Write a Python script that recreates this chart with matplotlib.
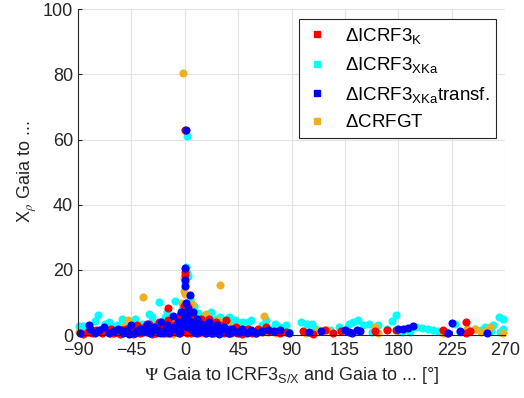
import matplotlib
matplotlib.use("Agg")
import matplotlib.pyplot as plt
from matplotlib.lines import Line2D

plt.rcParams['font.family'] = ['Liberation Sans', 'DejaVu Sans']
plt.rcParams['mathtext.default'] = 'regular'
plt.rcParams['mathtext.fontset'] = 'stix'

# angle [deg] and value for each series
red_x = [-86, -82, -78, -75, -70, -66, -62, -58, -55, -52, -48, -45, -42, -40, -38, -35, -32, -30,
         -28, -25, -22, -20, -18, -16, -14, -12, -14, -8, -6, -5, -4, -3, -2, -1, 0, 0, 0, 0.5, 1,
         1.5, 2, 3, 4, 5, 6, 7, 8, 10, 12, 14, 16, 18, 20, 22, 24, 26, 28, 30, 33, 35, 38, 40, 43,
         46, 50, 55, 60, 62, 68, 72, 80, 85, 100, 108, 118, 125, 132, 160, 170, 178, 218, 221,
         237, 237, 240,
         -60, -50, -44, -36, -33, -27, -24, -19, -15, -11, -9, -7, -3, -1, 1, 2, 4, 6, 9, 11, 13,
         15, 17, 19, 21, 23, 25, 27, 29, 31, 34, 37, 41, 44, 48, 53, 57, 65]
red_y = [0.3, 1, 0.8, 1.5, 0.5, 1.2, 1.8, 1, 0.3, 1.5, 2, 0.8, 1.5, 3, 0.5, 2.2, 1, 3.5,
         0.4, 2.5, 4, 1.2, 3, 0.6, 4.5, 2, 8.2, 1, 3.5, 6, 0.8, 5, 2.5, 9, 19.5, 18.5, 63, 7, 4,
         1, 5.5, 8.5, 2, 0.5, 3, 6, 1.5, 4, 2.5, 5, 1, 3.5, 5, 0.5, 2, 4, 1.5, 3, 0.8, 4.5, 2, 1, 2.5,
         0.5, 1.5, 1, 0.5, 1.8, 2.5, 1.3, 0.8, 1, 1.3, 0.3, 1.5, 0.8, 1.2, 1.2, 1.5, 1.5, 1.5, 0.5,
         4, 0.5, 1.2,
         0.8, 1.8, 0.4, 1.3, 2.8, 1.8, 0.6, 2.2, 1.5, 0.9, 3, 1.8, 1.2, 4.5, 2.2, 0.8, 6.5, 1.2, 2.3,
         0.7, 3, 2, 0.6, 2.5, 1.3, 3.3, 0.7, 2.2, 0.9, 2.4, 1.6, 0.6, 1.7, 0.7, 0.3, 1.9, 0.6, 1]

cyan_x = [-89, -86, -82, -80, -76, -73, -70, -67, -64, -60, -57, -53, -50, -47, -44, -42, -39, -36,
          -33, -30, -28, -26, -22, -20, -18, -15, -12, -10, -8, -6, -4, -2, -1, 0, 1, 2, 2, 3, 4, 5,
          6, 8, 10, 12, 14, 16, 18, 20, 22, 24, 26, 28, 30, 32, 35, 38, 40, 42, 45, 48, 50, 53, 56,
          60, 65, 68, 72, 76, 80, 85, 88, 98, 103, 107, 110, 122, 130, 138, 142, 146, 150, 155,
          158, 163, 170, 175, 178, 183, 186, 190, 195, 200, 205, 209, 213, 228, 232, 245, 250,
          253, 260, 265, 268, 268, 266, 258,
          -40, -31, -25, -17, -13, -5, 7, 11, 17, 23, 33, 37]
cyan_y = [2.8, 2.7, 1, 1.5, 4.2, 6.1, 2, 3.5, 4, 2.5, 3, 5, 3.8, 1, 3, 5, 1.2, 3.5,
          2, 6.5, 5.5, 1, 10.1, 4, 2, 7, 3, 5, 10.5, 2, 6, 8, 4, 16, 21, 61, 19, 18, 11, 6,
          3, 9, 4.5, 1.5, 6, 2.5, 5, 3.5, 7, 1.5, 5, 3, 5.5, 2, 4, 1, 3.5, 4.5, 2, 4, 1.5, 4, 4.5,
          1.2, 3, 4.5, 2, 3.5, 2.5, 3, 1, 4.1, 3.5, 3.5, 2, 1.5, 2.5, 3.5, 4, 4.6, 3, 3.5,
          1, 3.2, 2, 4.3, 6.1, 1, 1.8, 1, 2.5, 2.2, 2, 1.5, 1.2, 3.5, 1, 2, 1.5,
          2.5, 3, 5.5, 4.8, 2, 1, 1.3,
          0.5, 1.5, 3.5, 5.5, 0.8, 3.5, 2, 6.8, 1, 4.5, 3, 5.5]

blue_x = [-88, -81, -80, -76, -72, -68, -64, -60, -56, -52, -49, -45, -42, -38, -35, -32, -29, -26,
          -23, -20, -18, -15, -12, -10, -8, -6, -4, -3, -2, 0, 0, 0, 1, 1, 1.5, 2, 3, 4.4, 5, 6, 7,
          8, 10, 12, 14, 16, 18, 20, 22, 24, 27, 30, 33, 36, 40, 44, 48, 52, 56, 60, 65, 70, 75, 80,
          88, 105, 115, 135, 138, 141, 145, 148, 180, 184, 188, 192, 222, 225, 232, 255,
          -54, -47, -40, -33, -27, -21, -16, -13, -9, -5, -1, 2.5, 5, 9, 11, 13, 17, 19, 23, 26,
          29, 35, 38, 46, 58]
blue_y = [0.5, 3, 1.8, 0.8, 1.5, 2.5, 0.5, 1.2, 2, 0.8, 1.5, 3, 0.5, 2, 1, 3.5, 0.8, 2.5,
          1.5, 4, 0.5, 3, 1.5, 6, 2, 4, 1, 7, 3, 20.5, 17, 15, 63, 10, 6, 2.5, 8, 12.3, 4, 1.5, 7,
          3, 5, 1, 3.5, 2, 0.5, 4, 2.5, 1, 3, 1.5, 2.5, 0.8, 2, 1, 1.8, 0.5, 1.5, 0.8, 1.2, 1.5, 1.2, 1.5,
          0.5, 1, 1.3, 1.5, 1, 0.8, 1.5, 1.3, 2, 1.8, 2.2, 2.8, 0.5, 3.8, 1.2, 0.5,
          1.6, 0.4, 1.2, 2.2, 1.5, 0.7, 2.2, 0.5, 2.6, 0.6, 5, 4.5, 2.2, 0.6, 2.8, 1.8, 3.2, 1.4, 0.5, 1.7,
          0.4, 1.8, 0.6, 1.1, 1]

orange_x = [-89, -84, -78, -70, -62, -55, -48, -45, -40, -35.5, -33, -28, -24, -20, -17, -14, -10,
            -8, -5, -3, -2, -1.5, -1, -1, 0, 0.5, 1, 2, 4, 6, 8, 12, 15, 18, 20, 23, 26, 29.7, 32,
            36, 40, 44, 48, 52, 58, 67, 70, 77, 102, 112, 120, 160, 163, 180, 218, 238, 245, 250,
            255, 257, 268,
            -52, -38, -30, -22, -12, 10, 14, 22, 28, 34]
orange_y = [1, 0.5, 1.5, 0.8, 0.4, 1.5, 4.5, 0.5, 2, 11.7, 1, 1.5, 0.5, 3, 1, 2.5, 0.3,
            4, 1.5, 6, 10, 80.5, 17.5, 13.5, 12.5, 9, 3, 6.5, 1, 9.5, 2, 4, 1, 6.5, 3, 0.5, 2, 15.5, 1.5,
            3.5, 0.5, 2.5, 1, 1.2, 0.5, 5.8, 1, 0.5, 0.8, 1.5, 1.5, 2.5, 0.6, 1.5, 0.5, 2, 2, 1,
            1.5, 2.5, 0.5,
            2.5, 0.5, 3.2, 1.5, 0.8, 2.8, 0.5, 1.8, 4.5, 1]

labels = [r'$\Delta$ICRF3$_{K}$', r'$\Delta$ICRF3$_{XKa}$',
          r'$\Delta$ICRF3$_{XKa}$transf.', r'$\Delta$CRFGT']
colors = ['#ff0000', '#00ffff', '#0000ff', '#edb120']

fig = plt.figure(figsize=(5.24, 3.98), dpi=100)
ax = fig.add_axes([0.149, 0.158, 0.815, 0.819])

series = [(red_x, red_y), (cyan_x, cyan_y), (blue_x, blue_y), (orange_x, orange_y)]
# drawing order: cyan, orange, red, blue on top
z = [5, 3, 6, 4]
for (xs, ys), c, zo in zip(series, colors, z):
    ax.scatter(xs, ys, s=34, color=c, linewidths=0, clip_on=False, zorder=zo)

ax.set_xlim(-90, 270)
ax.set_ylim(0, 100)
ax.set_xticks(range(-90, 271, 45))
ax.set_yticks(range(0, 101, 20))
ax.grid(True, color='#e3e3e3', linewidth=0.8)
ax.set_axisbelow(True)
for side in ['top', 'right']:
    ax.spines[side].set_visible(False)
for side in ['left', 'bottom']:
    ax.spines[side].set_color('#262626')
    ax.spines[side].set_linewidth(0.8)
    ax.spines[side].set_zorder(7)
ax.tick_params(direction='in', length=3, labelsize=13, colors='#262626')
ax.tick_params(axis='x', pad=5)

ax.set_xlabel(r'$\mathrm{\Psi}$ Gaia to ICRF3$_{S/X}$ and Gaia to ... [°]', fontsize=13, color='#262626')
ax.set_ylabel(r'X$_{\mathit{\rho}}$ Gaia to ...', fontsize=13, color='#262626', labelpad=3)

handles = [Line2D([], [], marker='s', linestyle='none', markersize=5, color=c) for c in colors]
leg = ax.legend(handles, labels, loc='upper right', bbox_to_anchor=(0.979, 0.969), fontsize=13.5,
                frameon=True, fancybox=False, edgecolor='#262626', handlelength=1.2,
                handletextpad=0.9, borderpad=0.35, labelspacing=0.5, framealpha=1,
                borderaxespad=0)
leg.get_frame().set_linewidth(0.8)
leg.set_zorder(8)

fig.savefig('out.png', dpi=100)
